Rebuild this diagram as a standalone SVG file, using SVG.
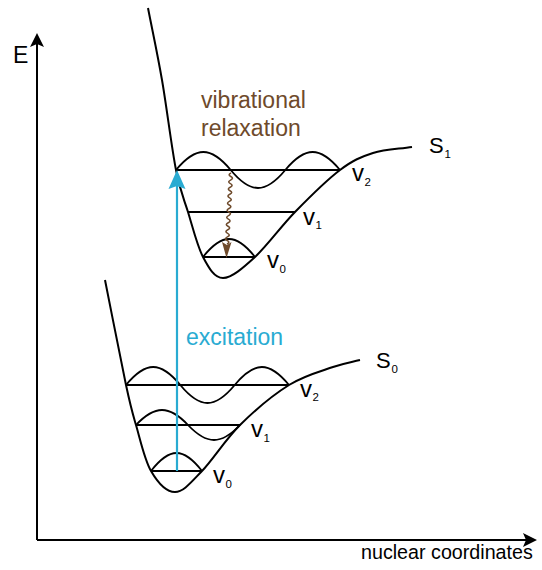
<svg xmlns="http://www.w3.org/2000/svg" width="542" height="570" viewBox="0 0 542 570">
<style>
.curve{fill:none;stroke:#000;stroke-width:2}
.level{fill:none;stroke:#000;stroke-width:2}
.wave{fill:none;stroke:#000;stroke-width:1.8}
.axis{fill:none;stroke:#000;stroke-width:2}
.t{font-family:"Liberation Sans",Arial,sans-serif;fill:#000}
.big{font-size:23px}
.v{font-size:24px}
.sub{font-size:11.5px}
.brown{fill:#6e4a2b}
.blue{fill:#29abd2}
</style>
<defs>
<marker id="ah" markerWidth="14" markerHeight="14" viewBox="0 0 14 14" refX="12" refY="7" orient="auto" markerUnits="userSpaceOnUse">
<path d="M0,0 L14,7 L0,14 L3,7 Z" fill="#000"/>
</marker>
</defs>
<g id="axes">
<line class="axis" x1="37" y1="540" x2="37" y2="35" marker-end="url(#ah)"/>
<line class="axis" x1="37" y1="540" x2="535" y2="540" marker-end="url(#ah)"/>
<text class="t big" x="13" y="63">E</text>
<text class="t" x="361" y="559" font-size="19.7">nuclear coordinates</text>
</g>
<g id="S1">
<path class="curve" d="M148,8 C152.67,32 157.33,53 162,80 C166.67,107 171.67,148 176,170 C180.33,192 183.5,197.5 188,212 C192.5,226.5 197.17,246 203,257 C208.83,268 214.33,278 223,278 C231.67,278 243,268 255,257 C267,246 280.83,226.5 295,212 C309.17,197.5 327,179.83 340,170 C353,160.17 361,156.83 373,153 C385,149.17 399,149 412,147"/>
<line class="level" x1="176" y1="170" x2="340" y2="170"/>
<line class="level" x1="188" y1="212" x2="295" y2="212"/>
<line class="level" x1="203" y1="257" x2="255" y2="257"/>
<path class="wave" d="M176,170 C195.9,146 210.8,146 230.7,170 S265.4,194 285.3,170 S320.1,146 340,170"/>
<path class="wave" d="M203,257 C221.9,233 236.1,233 255,257"/>
<text class="t" x="429" y="153" font-size="22">S</text>
<text class="t sub" x="444.5" y="158">1</text>
<text class="t v" x="352" y="181">v</text>
<text class="t sub" x="364.5" y="186">2</text>
<text class="t v" x="303" y="225">v</text>
<text class="t sub" x="315.5" y="229">1</text>
<text class="t v" x="267" y="268">v</text>
<text class="t sub" x="279.5" y="273">0</text>
</g>
<g id="S0">
<path class="curve" d="M105,280 C112,315 120.83,360.83 126,385 C131.17,409.17 131.83,410.67 136,425 C140.17,439.33 144.5,459.83 151,471 C157.5,482.17 166.5,492 175,492 C183.5,492 191.17,482.17 202,471 C212.83,459.83 225.5,439.33 240,425 C254.5,410.67 273.5,394.67 289,385 C304.5,375.33 321.17,371.17 333,367 C344.83,362.83 351,362.33 360,360"/>
<line class="level" x1="126" y1="385" x2="289" y2="385"/>
<line class="level" x1="136" y1="425" x2="240" y2="425"/>
<line class="level" x1="151" y1="471" x2="202" y2="471"/>
<path class="wave" d="M126,385 C145.8,361 160.5,361 180.3,385 S214.9,409 234.7,385 S269.2,361 289,385"/>
<path class="wave" d="M136,425 C154.9,405 169.1,405 188,425 S221.1,445 240,425"/>
<path class="wave" d="M151,471 C169.6,447 183.4,447 202,471"/>
<text class="t" x="376" y="368" font-size="22">S</text>
<text class="t sub" x="391.5" y="373">0</text>
<text class="t v" x="300" y="397">v</text>
<text class="t sub" x="312.5" y="401">2</text>
<text class="t v" x="251" y="437">v</text>
<text class="t sub" x="263.5" y="442">1</text>
<text class="t v" x="213" y="483">v</text>
<text class="t sub" x="225.5" y="488">0</text>
</g>
<g id="connectors">
<g id="excitation">
<line x1="177" y1="471" x2="177" y2="186" stroke="#29abd2" stroke-width="2.2"/>
<path d="M177,170 L185.5,189 L177,186 L168.5,189 Z" fill="#29abd2"/>
<text class="t big blue" x="186" y="345">excitation</text>
</g>
<g id="relaxation">
<path fill="none" stroke="#6e4a2b" stroke-width="1.6" d="M231,173 q-3.6,1.78 -0.2,3.55 t-0.2,3.55 t-0.2,3.55 t-0.2,3.55 t-0.2,3.55 t-0.2,3.55 t-0.2,3.55 t-0.2,3.55 t-0.2,3.55 t-0.2,3.55 t-0.2,3.55 t-0.2,3.55 t-0.2,3.55 t-0.2,3.55 t-0.2,3.55 t-0.2,3.55 t-0.2,3.55 t-0.2,3.55 t-0.2,3.55 t-0.2,3.55"/>
<path d="M226.5,258 L231.5,242 L227,245 L222,242 Z" fill="#6e4a2b"/>
<text class="t big brown" x="201" y="108">vibrational</text>
<text class="t big brown" x="201" y="136">relaxation</text>
</g>
</g>
</svg>
